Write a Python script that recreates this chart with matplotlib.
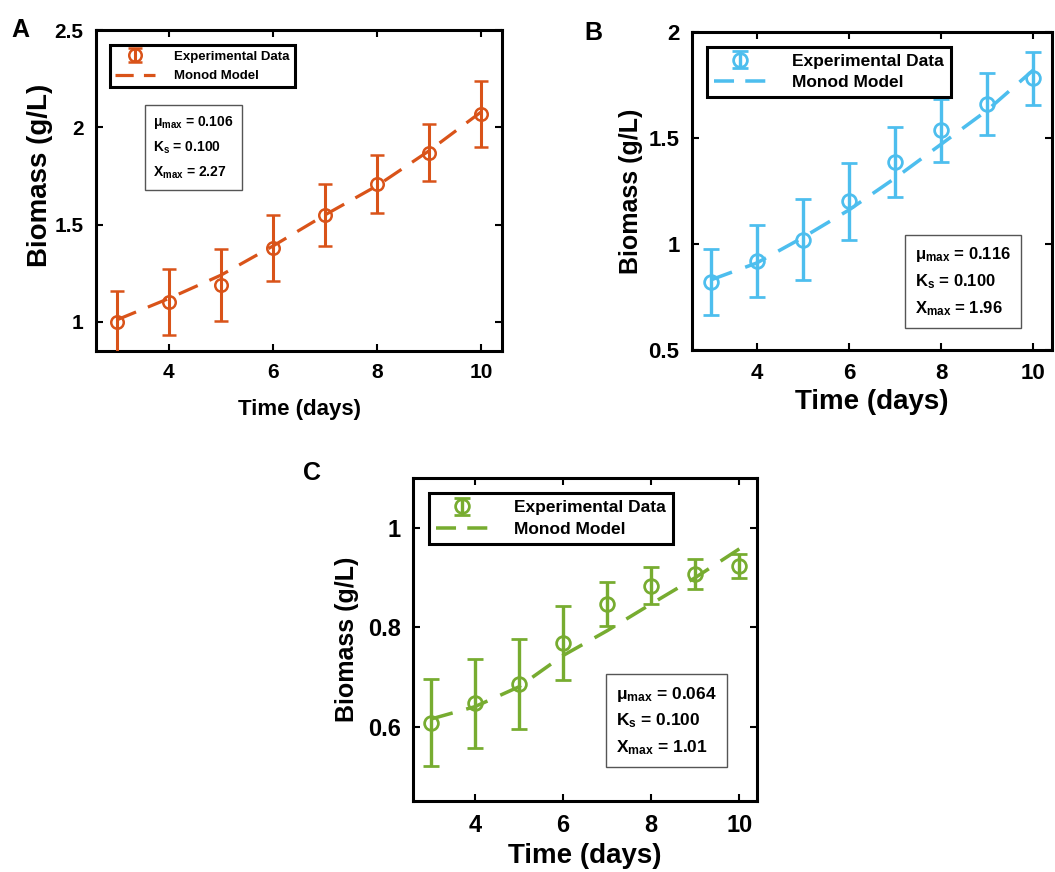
import matplotlib
matplotlib.use("Agg")
import matplotlib.pyplot as plt

plt.rcParams['font.family'] = ['Liberation Sans', 'DejaVu Sans']
plt.rcParams['font.weight'] = 'bold'
plt.rcParams['mathtext.fontset'] = 'custom'
plt.rcParams['mathtext.rm'] = 'Liberation Sans:bold'
plt.rcParams['mathtext.bf'] = 'Liberation Sans:bold'
plt.rcParams['mathtext.it'] = 'Liberation Sans:bold'
plt.rcParams['mathtext.default'] = 'bf'

days = [3, 4, 5, 6, 7, 8, 9, 10]

# panel A
a_mean = [1.00, 1.10, 1.19, 1.38, 1.55, 1.71, 1.87, 2.07]
a_err = [0.16, 0.17, 0.185, 0.17, 0.16, 0.15, 0.145, 0.17]
a_model = [1.01, 1.12, 1.24, 1.39, 1.55, 1.70, 1.88, 2.08]
a_params = ["0.106", "0.100", "2.27"]

# panel B
b_mean = [0.82, 0.92, 1.02, 1.20, 1.385, 1.535, 1.66, 1.78]
b_err = [0.155, 0.17, 0.19, 0.18, 0.165, 0.15, 0.145, 0.125]
b_model = [0.83, 0.91, 1.03, 1.16, 1.31, 1.47, 1.63, 1.82]
b_params = ["0.116", "0.100", "1.96"]

# panel C
c_mean = [0.608, 0.647, 0.686, 0.768, 0.847, 0.884, 0.908, 0.923]
c_err = [0.087, 0.09, 0.09, 0.074, 0.045, 0.037, 0.03, 0.024]
c_model = [0.615, 0.64, 0.68, 0.743, 0.793, 0.847, 0.90, 0.958]
c_params = ["0.064", "0.100", "1.01"]

fig = plt.figure(figsize=(10.55, 8.72), dpi=100)


def panel(rect, mean, err, model, params, color, ylim, yticks, ytl,
          tick_fs, xl_fs, yl_fs, xl_pad, yl_pad, leg_fs, leg_sp, box_fs, box_ls,
          leg_anchor, box_xy, letter, letter_xy, scale, ylab_xy=None):
    ax = fig.add_axes(rect)
    ax.plot(days, model, linestyle=(0, (6.5, 4)), color=color, lw=2.3 * scale, label="Monod Model", zorder=2)
    ax.errorbar(days, mean, yerr=err, fmt='o', color=color, mfc='none', mec=color,
                ms=9 * scale, mew=1.8 * scale, elinewidth=2.2 * scale, capsize=5 * scale,
                capthick=2.2 * scale, label="Experimental Data", zorder=3)
    ax.set_xlim(2.6, 10.4)
    ax.set_ylim(*ylim)
    ax.set_xticks([4, 6, 8, 10])
    ax.set_yticks(yticks)
    ax.set_yticklabels(ytl)
    ax.tick_params(direction='in', top=True, right=True, length=5, width=1.5,
                   labelsize=tick_fs, pad=9)
    for lab in ax.get_xticklabels() + ax.get_yticklabels():
        lab.set_fontweight('bold')
    for s in ax.spines.values():
        s.set_linewidth(2.2)
    ax.set_xlabel("Time (days)", fontsize=xl_fs, fontweight='bold', labelpad=xl_pad)
    ax.set_ylabel("Biomass (g/L)", fontsize=yl_fs, fontweight='bold', labelpad=yl_pad)
    if ylab_xy is not None:
        ax.yaxis.set_label_coords(*ylab_xy)
    h, l = ax.get_legend_handles_labels()
    leg = ax.legend(h[::-1], l[::-1], loc='upper left', bbox_to_anchor=leg_anchor,
                    borderaxespad=0, fancybox=False, framealpha=1, edgecolor='black',
                    fontsize=leg_fs, handlelength=3.0, handletextpad=1.5,
                    borderpad=0.4, labelspacing=leg_sp)
    leg.get_frame().set_linewidth(2.2)
    for t in leg.get_texts():
        t.set_fontweight('bold')
    for ln in leg.get_lines():
        if ln.get_label() == "Monod Model" or ln.get_linestyle() == '--':
            ln.set_linestyle((0, (5.7, 3.2)))
    txt = ("\u03bc$_{max}$ = " + params[0] + "\n" +
           "K$_{s}$ = " + params[1] + "\n" +
           "X$_{max}$ = " + params[2])
    ax.text(box_xy[0], box_xy[1], txt, transform=ax.transAxes, ha='left', va='top',
            fontsize=box_fs, fontweight='bold', linespacing=box_ls,
            bbox=dict(boxstyle='square,pad=0.6', fc='white', ec='#555555', lw=1))
    fig.text(letter_xy[0], letter_xy[1], letter, fontsize=18, fontweight='bold',
             ha='left', va='center')
    return ax


panel([0.091, 0.5975, 0.385, 0.368], a_mean, a_err, a_model, a_params, '#D95319',
      (0.85, 2.5), [1, 1.5, 2, 2.5], ["1", "1.5", "2", "2.5"],
      15, 16, 20, 12, 2, 9.5, 0.55, 10, 1.75, (0.034, 0.953), (0.14, 0.74),
      "A", (0.011, 0.966), 1.0, (-0.105, 0.548))

panel([0.656, 0.5986, 0.341, 0.365], b_mean, b_err, b_model, b_params, '#4DBEEE',
      (0.5, 2.0), [0.5, 1, 1.5, 2], ["0.5", "1", "1.5", "2"],
      16, 20, 18, 4, 4, 12.5, 0.35, 12, 1.6, (0.042, 0.953), (0.62, 0.33),
      "B", (0.554, 0.962), 1.1)

panel([0.3915, 0.0814, 0.326, 0.370], c_mean, c_err, c_model, c_params, '#77AC30',
      (0.45, 1.1), [0.6, 0.8, 1.0], ["0.6", "0.8", "1"],
      17, 20, 18, 5, 6, 12.5, 0.4, 12.5, 1.55, (0.047, 0.954), (0.59, 0.36),
      "C", (0.287, 0.458), 1.1)

fig.savefig("out.png", dpi=100)
